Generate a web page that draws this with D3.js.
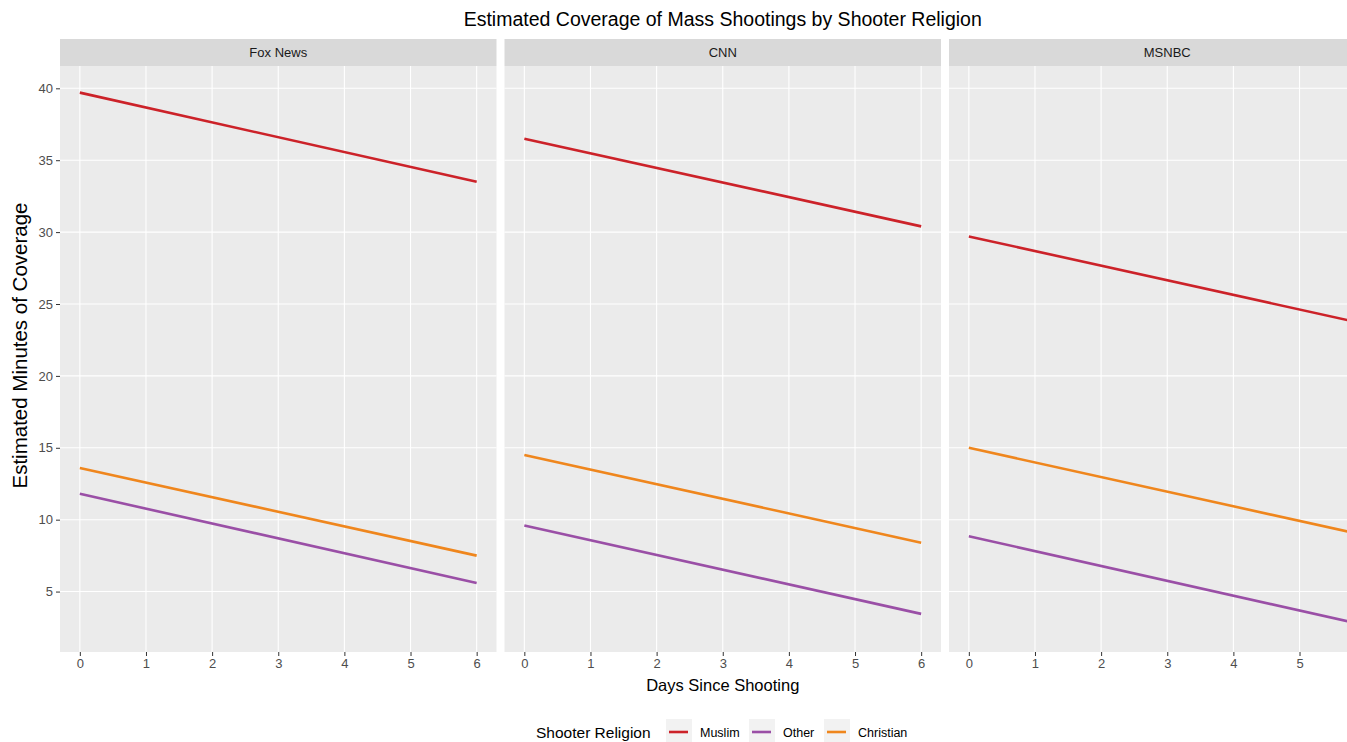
<!DOCTYPE html>
<html>
<head>
<meta charset="utf-8">
<script src="https://cdn.jsdelivr.net/npm/d3@7"></script>
<style>
  body { margin: 0; background: #fff; overflow: hidden; }
  text { font-family: "Liberation Sans", Arial, sans-serif; }
</style>
</head>
<body>
<div id="chart"></div>
<script>
// data
var networks = ["Fox News", "CNN", "MSNBC"];
var religions = ["Muslim", "Other", "Christian"];
var days = [0, 6];
var muslim = [[39.7, 33.5], [36.5, 30.4], [29.7, 23.6]];
var other = [[11.8, 5.6], [9.6, 3.45], [8.85, 2.65]];
var christian = [[13.6, 7.5], [14.5, 8.4], [15.0, 8.9]];
var xTicks = [0, 1, 2, 3, 4, 5, 6];
var yTicks = [5, 10, 15, 20, 25, 30, 35, 40];

var colors = { Muslim: "#cc2229", Other: "#9a4fa6", Christian: "#ef861d" };
var seriesVals = { Muslim: muslim, Other: other, Christian: christian };

var W = 1347, H = 742;
var m = { left: 60, top: 39, stripH: 27, bottom: 652 };
var panelW = 436.5, gap = 8;

var svg = d3.select("#chart").append("svg")
  .attr("width", W)
  .attr("height", H);

// scales with ggplot-style 5% expansion
var xr = d3.extent(days), xpad = (xr[1] - xr[0]) * 0.05;
var x = d3.scaleLinear().domain([xr[0] - xpad, xr[1] + xpad]).range([0, panelW]);

var allV = d3.merge([muslim, other, christian].map(function(s) { return d3.merge(s); }));
var yr = d3.extent(allV), ypad = (yr[1] - yr[0]) * 0.05;
var panelTop = m.top + m.stripH;
var y = d3.scaleLinear().domain([yr[0] - ypad, yr[1] + ypad]).range([m.bottom, panelTop]);

var line = d3.line().x(function(d) { return x(d[0]); }).y(function(d) { return y(d[1]); });

networks.forEach(function(net, ni) {
  var px = m.left + ni * (panelW + gap);
  var g = svg.append("g").attr("transform", "translate(" + px + ",0)");

  // strip
  g.append("rect").attr("x", 0).attr("y", m.top).attr("width", panelW).attr("height", m.stripH)
    .attr("fill", "#d9d9d9");
  g.append("text").attr("x", panelW / 2).attr("y", m.top + m.stripH / 2 + 4.5)
    .attr("text-anchor", "middle").attr("font-size", 13).attr("fill", "#1a1a1a").text(net);

  // panel bg
  g.append("rect").attr("x", 0).attr("y", panelTop).attr("width", panelW)
    .attr("height", m.bottom - panelTop).attr("fill", "#ebebeb");

  // grid
  g.selectAll(".vg").data(xTicks).enter().append("line")
    .attr("x1", function(d) { return x(d); }).attr("x2", function(d) { return x(d); })
    .attr("y1", panelTop).attr("y2", m.bottom)
    .attr("stroke", "#fff").attr("stroke-width", 1.1);
  g.selectAll(".hg").data(yTicks).enter().append("line")
    .attr("x1", 0).attr("x2", panelW)
    .attr("y1", function(d) { return y(d); }).attr("y2", function(d) { return y(d); })
    .attr("stroke", "#fff").attr("stroke-width", 1.1);

  // lines
  religions.forEach(function(r) {
    var pts = days.map(function(d, i) { return [d, seriesVals[r][ni][i]]; });
    g.append("path").datum(pts).attr("d", line)
      .attr("fill", "none").attr("stroke", colors[r]).attr("stroke-width", 2.6);
  });

  // x axis (only ticks that fall inside the window)
  var shown = xTicks.filter(function(d) { return px + x(d) + 6 < W; });
  var xa = g.append("g").attr("transform", "translate(0," + m.bottom + ")")
    .call(d3.axisBottom(x).tickValues(shown).tickSize(4).tickPadding(3).tickFormat(d3.format("d")));
  xa.select(".domain").remove();
  xa.selectAll("line").attr("stroke", "#333");
  xa.selectAll("text").attr("font-size", 13).attr("fill", "#4d4d4d").attr("font-family", "Liberation Sans, Arial, sans-serif");
});

// y axis on first panel
var ya = svg.append("g").attr("transform", "translate(" + m.left + ",0)")
  .call(d3.axisLeft(y).tickValues(yTicks).tickSize(4).tickPadding(3));
ya.select(".domain").remove();
ya.selectAll("line").attr("stroke", "#333");
ya.selectAll("text").attr("font-size", 13).attr("fill", "#4d4d4d").attr("font-family", "Liberation Sans, Arial, sans-serif");

var centerX = m.left + (3 * panelW + 2 * gap) / 2;

// title
svg.append("text").attr("x", centerX).attr("y", 26).attr("text-anchor", "middle")
  .attr("font-size", 19.5).attr("fill", "#000").text("Estimated Coverage of Mass Shootings by Shooter Religion");

// axis titles
svg.append("text").attr("x", centerX).attr("y", 691).attr("text-anchor", "middle")
  .attr("font-size", 16.5).attr("fill", "#000").text("Days Since Shooting");
svg.append("text")
  .attr("transform", "translate(27," + ((m.top + m.bottom) / 2) + ") rotate(-90)")
  .attr("text-anchor", "middle").attr("font-size", 20.5).attr("fill", "#000")
  .text("Estimated Minutes of Coverage");

// legend
var lg = svg.append("g");
lg.append("text").attr("x", 536).attr("y", 738).attr("font-size", 15.5).attr("fill", "#000").text("Shooter Religion");
var keyX = [666, 749, 824];
religions.forEach(function(r, i) {
  lg.append("rect").attr("x", keyX[i]).attr("y", 719).attr("width", 26).attr("height", 26).attr("fill", "#f2f2f2");
  lg.append("line").attr("x1", keyX[i] + 3).attr("x2", keyX[i] + 22)
    .attr("y1", 732).attr("y2", 732).attr("stroke", colors[r]).attr("stroke-width", 2.6);
  lg.append("text").attr("x", keyX[i] + 34).attr("y", 736.5).attr("font-size", 12.5).attr("fill", "#000").text(r);
});
</script>
</body>
</html>
